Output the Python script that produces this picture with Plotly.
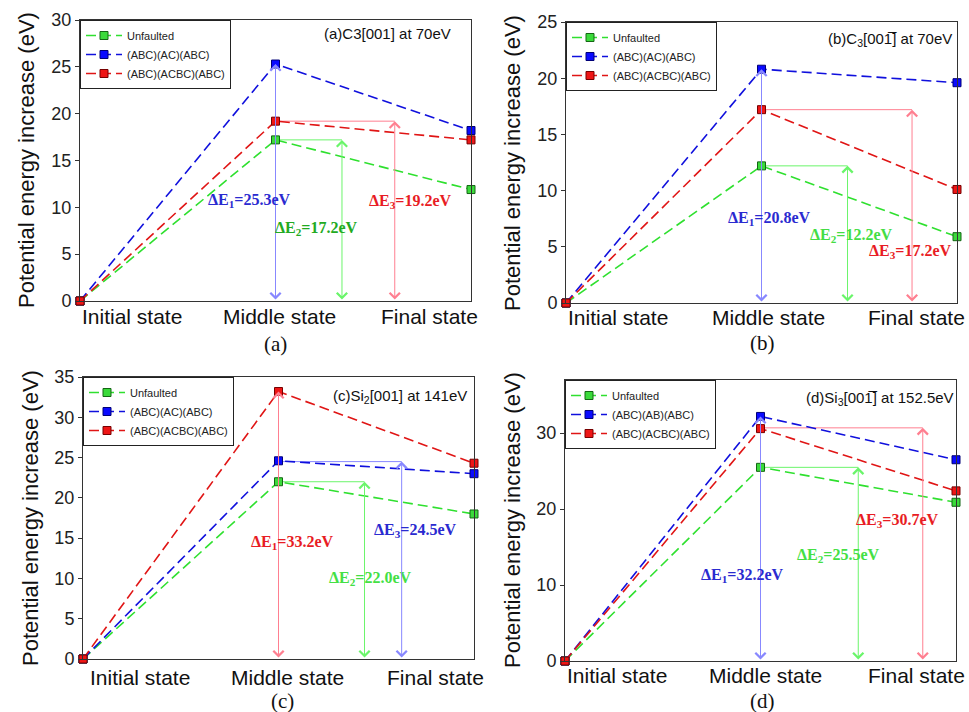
import plotly.graph_objects as go

# ---------------- data ----------------
states = ["Initial state", "Middle state", "Final state"]

a_unfaulted = [0, 17.2, 11.9]
a_ac = [0, 25.3, 18.2]
a_acbc = [0, 19.2, 17.2]
a_dE = [25.3, 17.2, 19.2]

b_unfaulted = [0, 12.2, 5.9]
b_ac = [0, 20.8, 19.6]
b_acbc = [0, 17.2, 10.1]
b_dE = [20.8, 12.2, 17.2]

c_unfaulted = [0, 22.0, 18.0]
c_ac = [0, 24.6, 23.0]
c_acbc = [0, 33.2, 24.3]
c_dE = [33.2, 22.0, 24.5]

d_unfaulted = [0, 25.5, 20.9]
d_ab = [0, 32.2, 26.5]
d_acbc = [0, 30.6, 22.4]
d_dE = [32.2, 25.5, 30.7]

names_abc = ["Unfaulted", "(ABC)(AC)(ABC)", "(ABC)(ACBC)(ABC)"]
names_d = ["Unfaulted", "(ABC)(AB)(ABC)", "(ABC)(ACBC)(ABC)"]

titles = ["(a)C3[001] at 70eV",
          "(b)C<sub>3</sub>[00\u0031\u0305] at 70eV",
          "(c)Si<sub>2</sub>[001] at 141eV",
          "(d)Si<sub>3</sub>[00\u0031\u0305] at 152.5eV"]
captions = ["(a)", "(b)", "(c)", "(d)"]

# ---------------- style / layout ----------------
W, H = 969, 712
GREEN, BLUE, RED = "#2fe02f", "#1010dd", "#e01515"
MK_FILL = {"g": "#3ada3a", "b": "#0a0aff", "r": "#ee1515"}
MK_EDGE = {"g": "#146614", "b": "#000077", "r": "#770000"}
LINE = {"g": GREEN, "b": BLUE, "r": RED}
ARROW = {"g": "#6af56a", "b": "#8888ff", "r": "#ff7f90"}
LABEL = {"g": "#33cc33", "b": "#2a2ad0", "r": "#e81c24"}

panels = [
    dict(series=[a_unfaulted, a_ac, a_acbc], names=names_abc, dE=a_dE, ymax=30, dtick=5,
         box=(80, 471, 20, 301), dE_cols=["b", "g", "r"], arrow_x=[1, 1.34, 1.61],
         lab_pos=[(0.865, 10.7), (1.21, 7.7), (1.69, 10.6)], lab2col="#22aa22",
         title_xy=(453, 33), ytitle_xy=(26, 160), cap_xy=(275, 344),
         xl_shift=[(0, 6), (4, 6), (9, 6)]),
    dict(series=[b_unfaulted, b_ac, b_acbc], names=names_abc, dE=b_dE, ymax=25, dtick=5,
         box=(566, 957, 22, 303), dE_cols=["b", "g", "r"], arrow_x=[1, 1.44, 1.77],
         lab_pos=[(1.04, 7.5), (1.46, 6.05), (1.76, 4.6)], lab2col="#44dd44",
         title_xy=(954, 39), ytitle_xy=(513, 163), cap_xy=(762, 343),
         xl_shift=[(0, 5), (7, 5), (10, 5)]),
    dict(series=[c_unfaulted, c_ac, c_acbc], names=names_abc, dE=c_dE, ymax=35, dtick=5,
         box=(83, 474, 377, 659), dE_cols=["r", "g", "b"], arrow_x=[1, 1.44, 1.63],
         lab_pos=[(1.07, 14.5), (1.47, 10.0), (1.70, 15.9)], lab2col="#44e044",
         title_xy=(469, 397), ytitle_xy=(30, 518), cap_xy=(282, 701),
         xl_shift=[(5, 9), (9, 9), (12, 9)]),
    dict(series=[d_unfaulted, d_ab, d_acbc], names=names_d, dE=d_dE, ymax=37, dtick=10,
         box=(565, 956, 380, 661), dE_cols=["b", "g", "r"], arrow_x=[1, 1.50, 1.83],
         lab_pos=[(0.91, 11.3), (1.40, 13.9), (1.70, 18.5)], lab2col="#44e044",
         title_xy=(956, 398), ytitle_xy=(512, 520), cap_xy=(762, 701),
         xl_shift=[(0, 5), (5, 5), (11, 5)]),
]

SANS = "Liberation Sans, Arial, sans-serif"
SERIF = "Liberation Serif, Times New Roman, serif"

fig = go.Figure()
x_idx = list(range(len(states)))
layout = dict(width=W, height=H, margin=dict(l=0, r=0, t=0, b=0, autoexpand=False),
              autosize=False, paper_bgcolor="white", plot_bgcolor="white", showlegend=True)
annotations = []
shapes = []
col_keys = ["g", "b", "r"]

for i, p in enumerate(panels):
    n = i + 1
    xa = "x" if n == 1 else f"x{n}"
    ya = "y" if n == 1 else f"y{n}"
    lg = "legend" if n == 1 else f"legend{n}"
    x0, x1, y0, y1 = p["box"]
    layout[f"xaxis{'' if n == 1 else n}"] = dict(
        domain=[x0 / W, x1 / W], range=[0, 2], anchor=ya, showticklabels=False,
        ticks="", showgrid=False, zeroline=False, showline=True, mirror=True,
        linecolor="#333", linewidth=1)
    layout[f"yaxis{'' if n == 1 else n}"] = dict(
        domain=[1 - y1 / H, 1 - y0 / H], range=[0, p["ymax"]], anchor=xa, dtick=p["dtick"],
        tick0=0, ticks="outside", ticklen=4, tickcolor="#333", showgrid=False,
        zeroline=False, showline=True, mirror=True, linecolor="#333", linewidth=1,
        tickfont=dict(family=SANS, size=18, color="#222"))
    layout[lg] = dict(x=x0 / W, y=1 - y0 / H, xanchor="left", yanchor="top",
                      xref="paper", yref="paper", bgcolor="white", bordercolor="#222",
                      borderwidth=1, font=dict(family=SANS, size=11, color="#222"),
                      tracegroupgap=0, itemwidth=36)
    for k, (vals, nm) in enumerate(zip(p["series"], p["names"])):
        ck = col_keys[k]
        fig.add_trace(go.Scatter(
            x=x_idx, y=vals, mode="lines+markers", name=nm, legend=lg,
            xaxis=xa, yaxis=ya, cliponaxis=False,
            line=dict(color=LINE[ck], width=1.6, dash="10px,5px"),
            marker=dict(symbol="square", size=8, color=MK_FILL[ck],
                        line=dict(color=MK_EDGE[ck], width=1))))
    # arrows, connectors, labels
    for j in range(3):
        ck = p["dE_cols"][j]
        ax_x = p["arrow_x"][j]
        val = p["dE"][j]
        annotations.append(dict(
            x=ax_x, y=val, ax=ax_x, ay=0, xref=xa, yref=ya, axref=xa, ayref=ya,
            showarrow=True, arrowhead=4, startarrowhead=4, arrowside="end+start",
            arrowsize=2, startarrowsize=2, arrowwidth=1, arrowcolor=ARROW[ck], text=""))
        if j > 0:
            shapes.append(dict(type="line", xref=xa, yref=ya, x0=1, x1=ax_x, y0=val, y1=val,
                               line=dict(color=ARROW[ck], width=1), layer="below"))
        lx, ly = p["lab_pos"][j]
        tcol = p["lab2col"] if j == 1 else LABEL[ck]
        annotations.append(dict(
            x=lx, y=ly, xref=xa, yref=ya, showarrow=False,
            text=f"<b>\u0394E<sub>{j + 1}</sub>={val:.1f}eV</b>",
            font=dict(family=SERIF, size=16, color=tcol)))
    # x-axis state labels
    anchors = ["left", "center", "right"]
    for k, st in enumerate(states):
        dx, dy = p["xl_shift"][k]
        annotations.append(dict(
            x=x_idx[k], y=0, xref=xa, yref=f"{ya} domain", xanchor=anchors[k],
            yanchor="top", xshift=dx, yshift=-dy + 4, showarrow=False, text=st,
            font=dict(family=SANS, size=21, color="#111")))
    # in-plot title
    tx, ty = p["title_xy"]
    annotations.append(dict(x=tx / W, y=1 - ty / H, xref="paper", yref="paper",
                            xanchor="right", yanchor="middle", showarrow=False,
                            text=titles[i], font=dict(family=SANS, size=15, color="#111")))
    # y-axis title
    yx, yy = p["ytitle_xy"]
    annotations.append(dict(x=yx / W, y=1 - yy / H, xref="paper", yref="paper",
                            xanchor="center", yanchor="middle", textangle=-90,
                            showarrow=False, text="Potential energy increase (eV)",
                            font=dict(family=SANS, size=22, color="#111")))
    # caption
    cx, cy = p["cap_xy"]
    annotations.append(dict(x=cx / W, y=1 - cy / H, xref="paper", yref="paper",
                            xanchor="center", yanchor="middle", showarrow=False,
                            text=captions[i], font=dict(family=SERIF, size=21, color="#111")))

layout["annotations"] = annotations
layout["shapes"] = shapes
fig.update_layout(**layout)
fig.write_html("out.html", config={"displayModeBar": False},
               post_script="document.body.style.margin='0';"
               "document.body.style.overflow='hidden';")
